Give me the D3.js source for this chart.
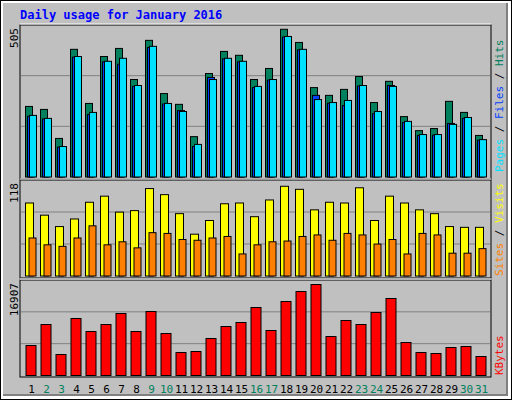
<!DOCTYPE html>
<html><head><meta charset="utf-8">
<script src="https://cdn.jsdelivr.net/npm/d3@7"></script>
<style>body{margin:0;background:#fff}svg{display:block}text{font-family:"DejaVu Sans Mono",monospace}</style>
</head><body><svg id="c" width="512" height="400"></svg>
<script>
const days = d3.range(1,32);
const weekend = [2,3,9,10,16,17,23,24,30,31];
const hits  = [236,226,129,427,246,403,430,326,457,279,243,135,346,420,407,326,363,494,450,299,273,293,336,249,320,202,155,162,253,216,139];
const files = [206,196,102,403,216,387,397,306,437,246,219,109,326,397,387,303,326,470,427,259,249,256,306,219,303,186,142,142,176,199,125];
const pages = [203,194,100,401,209,385,377,303,433,244,222,102,333,395,385,299,324,468,425,273,247,239,304,212,306,182,139,140,179,196,123];
const visits= [96,80,65,75,97,105,84,86,115,107,82,55,73,95,96,78,100,118,114,87,97,96,116,73,105,96,87,82,65,64,64];
const sites = [50,41,39,50,66,41,45,37,57,56,48,47,50,52,29,41,45,46,52,54,47,56,54,42,48,29,56,54,30,30,36];
const kbytes= [5574,9476,3902,10591,8175,9476,11520,8175,11891,7804,4273,4459,6875,9104,9847,12634,8361,13749,15607,16907,7246,10219,9476,11705,14307,6131,4273,4088,5202,5388,3530];
const maxLabels = ["505","118","16907"];

const svg = d3.select("#c");
// frame
svg.append("rect").attr("x",0).attr("y",0).attr("width",512).attr("height",400).attr("fill","#000");
svg.append("rect").attr("x",1).attr("y",1).attr("width",510).attr("height",398).attr("fill","#fff");
svg.append("rect").attr("x",3).attr("y",3).attr("width",505).attr("height",393).attr("fill","#808080");
svg.append("rect").attr("x",3).attr("y",3).attr("width",503).attr("height",391).attr("fill","#c0c0c0");

svg.append("text").attr("x",20).attr("y",19).attr("fill","#0000ff").attr("font-weight","bold")
  .attr("font-size",12).text("Daily usage for January 2016");

const x = d3.scaleBand().domain(days).range([21,486]).paddingInner(0);
const L=20,R=491;
const panels = [
  {top:25,bot:177,max:505},
  {top:180,bot:276,max:121},
  {top:280,bot:375.5,max:17000}
];
panels.forEach((p,i)=>{
  svg.append("rect").attr("x",L).attr("y",p.top).attr("width",R-L).attr("height",(i==2?377:p.bot+2)-p.top)
    .attr("fill","#c0c0c0").attr("stroke","#000");
  svg.append("line").attr("x1",L).attr("x2",R).attr("y1",p.top-1).attr("y2",p.top-1).attr("stroke","#fff");
  p.y = d3.scaleLinear().domain([0,p.max]).range([p.bot,p.top+(i==0?1:(i==1?4:4))]);
  [1,2].forEach(k=>{
    const gy = p.bot-(p.bot-p.top)*k/3;
    svg.append("line").attr("x1",L+1).attr("x2",R-1).attr("y1",gy).attr("y2",gy).attr("stroke","#808080");
  });
  svg.append("text").attr("transform",`translate(18,${p.top+3}) rotate(-90)`).attr("text-anchor","end")
    .attr("font-size",11).attr("fill","#000").text(maxLabels[i]);
});

function bars(data,p,off,w,color){
  svg.append("g").selectAll("rect").data(data).join("rect")
    .attr("x",(d,i)=>x(days[i])+off).attr("width",w)
    .attr("y",d=>p.y(d)).attr("height",d=>p.bot-p.y(d))
    .attr("fill",color).attr("stroke","#000").attr("stroke-width",1);
}
bars(hits,panels[0],4.5,7,"#00805c");
bars(pages,panels[0],6.5,7,"#0040ff");
bars(files,panels[0],8.5,7,"#00e0ff");
bars(visits,panels[1],4.5,8,"#ffff00");
bars(sites,panels[1],8,7,"#ff8000");
bars(kbytes,panels[2],5,10,"#ff0000");

// day labels
svg.append("g").selectAll("text").data(days).join("text")
  .attr("x",d=>x(d)+10.5).attr("y",393).attr("text-anchor","middle").attr("font-size",11)
  .attr("font-family","DejaVu Sans").attr("fill",d=>weekend.includes(d)?"#00805c":"#000").text(d=>d);

// right labels
function rlabel(y,parts){
  const t = svg.append("text").attr("transform",`translate(503,${y}) rotate(-90)`).attr("font-size",11);
  parts.forEach(([s,c])=>t.append("tspan").attr("fill",c).text(s));
}
rlabel(172,[["Pages","#00e0ff"],[" / ","#000"],["Files","#0040ff"],[" / ","#000"],["Hits","#00805c"]]);
rlabel(276,[["Sites","#ff8000"],[" / ","#000"],["Visits","#ffff00"]]);
rlabel(375,[["KBytes","#ff0000"]]);
</script></body></html>
